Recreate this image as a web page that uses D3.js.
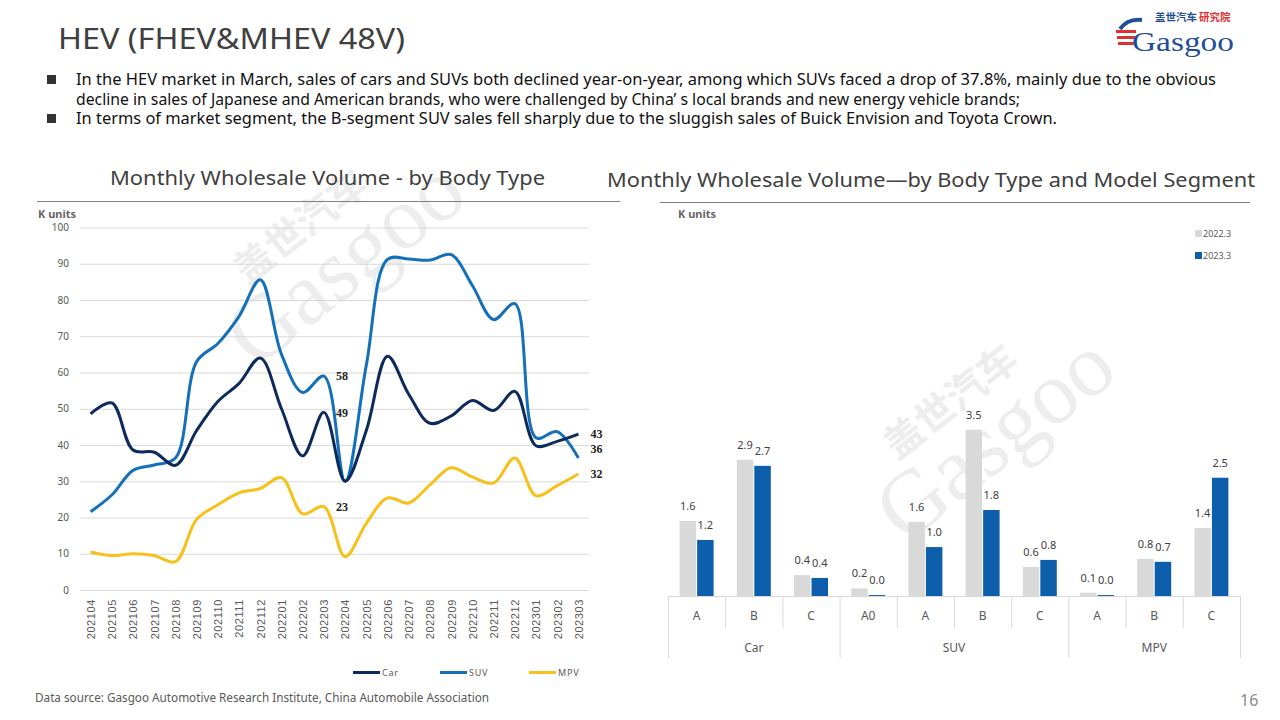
<!DOCTYPE html>
<html><head><meta charset="utf-8">
<script src="https://cdn.jsdelivr.net/npm/d3@7"></script>
<style>
html,body{margin:0;padding:0;background:#fff;}
svg{display:block;font-family:"Noto Sans","DejaVu Sans",sans-serif;}
</style></head>
<body>
<svg id="c" width="1280" height="720"></svg>
<script>
// ---------- DATA ----------
const months = ["202104","202105","202106","202107","202108","202109","202110","202111","202112",
  "202201","202202","202203","202204","202205","202206","202207","202208","202209","202210","202211","202212",
  "202301","202302","202303"];
const carSales = [48.6,51.6,38.6,38,34.4,44,52,57,64,50,37,49,30,44,64.5,54,46,48,52.3,49.5,54.8,39.8,41,43];
const suvSales = [21.6,26.2,33,34.5,36.4,63,68,75.5,85.6,65,54.5,59,30,62,91.2,91.3,91,92.5,84,74.6,79,42,43.7,36.4];
const mpvSales = [10.5,9.5,10,9.5,7.8,19.5,23.5,26.8,28,31,21,23,9.2,18.4,25.4,24,29,33.7,31.2,29.5,36.4,26,28.8,32];
const lineYTicks = [0,10,20,30,40,50,60,70,80,90,100];
const lineSeriesNames = ["Car","SUV","MPV"];
const lineLabels = [ // series, month index, shown text
  {s:1,i:11,t:"58"},{s:0,i:11,t:"49"},{s:2,i:11,t:"23"},
  {s:0,i:23,t:"43"},{s:1,i:23,t:"36"},{s:2,i:23,t:"32"}];

const barGroups = ["Car","SUV","MPV"];
const segments = [["Car","A"],["Car","B"],["Car","C"],["SUV","A0"],["SUV","A"],["SUV","B"],["SUV","C"],["MPV","A"],["MPV","B"],["MPV","C"]];
const sales2022_3 = [1.58,2.87,0.44,0.16,1.56,3.50,0.61,0.07,0.78,1.43];
const sales2023_3 = [1.18,2.74,0.38,0.02,1.03,1.81,0.76,0.02,0.72,2.49];
const barSeriesNames = ["2022.3","2023.3"];

const bullets = [
  ["In the HEV market in March, sales of cars and SUVs both declined year-on-year, among which SUVs faced a drop of 37.8%, mainly due to the obvious",
   "decline in sales of Japanese and American brands, who were challenged by China’ s local brands and new energy vehicle brands;"],
  ["In terms of market segment, the B-segment SUV sales fell sharply due to the sluggish sales of Buick Envision and Toyota Crown."]
];

// ---------- DRAW ----------
const svg = d3.select("#c");
const fit = (sel, w) => sel.attr("textLength", w).attr("lengthAdjust", "spacingAndGlyphs");

// watermarks
function watermark(x, y, s) {
  const g = svg.append("g").attr("transform", `translate(${x},${y}) rotate(-38) scale(${s})`).attr("fill", "#ededed");
  g.append("text").attr("x", 40).attr("y", -62).attr("font-size", 34).attr("font-family", "Noto Sans CJK SC").attr("font-weight", 700).text("盖世汽车");
  g.append("text").attr("x", 0).attr("y", 0).attr("font-size", 78).attr("font-family", "Liberation Serif").text("Gasgoo");
}
watermark(255, 370, 1.15);
watermark(905, 545, 1.15);

// header
fit(svg.append("text").attr("x", 58).attr("y", 49).attr("font-size", 29).attr("fill", "#404040").text("HEV (FHEV&MHEV 48V)"), 347);

// logo
const logo = svg.append("g");
[30, 36, 42].forEach((yy, k) => logo.append("rect").attr("x", 1116 + k).attr("y", yy).attr("width", 20 - k * 2).attr("height", 3).attr("fill", "#e03131"));
logo.append("text").attr("x", 1155).attr("y", 21).attr("font-size", 10.5).attr("font-weight", 700).attr("font-family", "Noto Sans CJK SC").attr("fill", "#1f4e9a").text("盖世汽车");
logo.append("text").attr("x", 1199).attr("y", 21).attr("font-size", 10.5).attr("font-weight", 700).attr("font-family", "Noto Sans CJK SC").attr("fill", "#e03131").text("研究院");
fit(logo.append("text").attr("x", 1132).attr("y", 51).attr("font-size", 27).attr("font-family", "Liberation Serif").attr("fill", "#1f4e9a").text("Gasgoo"), 102);
logo.append("path").attr("d", "M1120,29 Q1128,18 1142,20").attr("fill", "none").attr("stroke", "#1f4e9a").attr("stroke-width", 4);

// bullets
const bulletW = [[1140, 944], [981]];
let by = 85;
bullets.forEach((b, bi) => {
  svg.append("rect").attr("x", 47).attr("y", by - 10).attr("width", 9).attr("height", 9).attr("fill", "#333");
  b.forEach((line, li) => {
    fit(svg.append("text").attr("x", 76).attr("y", by).attr("font-size", 15.5).attr("fill", "#111").text(line), bulletW[bi][li]);
    by += 19.5;
  });
});

// ===== LEFT LINE CHART =====
fit(svg.append("text").attr("x", 110).attr("y", 185).attr("font-size", 20).attr("fill", "#404040").text("Monthly Wholesale Volume - by Body Type"), 435);
svg.append("line").attr("x1", 37).attr("x2", 620).attr("y1", 201.5).attr("y2", 201.5).attr("stroke", "#7f7f7f");
svg.append("text").attr("x", 38).attr("y", 218).attr("font-size", 11).attr("font-weight", 700).attr("fill", "#666").text("K units");

const xL = d3.scalePoint().domain(months).range([80, 589]).padding(0.5);
const yL = d3.scaleLinear().domain([0, 100]).range([590, 227.5]);

const gy = svg.append("g").attr("transform", "translate(80,0)")
  .call(d3.axisLeft(yL).tickValues(lineYTicks).tickSize(-509).tickPadding(11));
gy.select(".domain").remove();
gy.selectAll(".tick line").attr("stroke", "#d9d9d9");
gy.selectAll(".tick text").attr("font-size", 10).attr("fill", "#595959").attr("font-family", "Noto Sans");

const gx = svg.append("g").attr("transform", "translate(0,590)")
  .call(d3.axisBottom(xL).tickSize(0).tickPadding(8));
gx.select(".domain").remove();
gx.selectAll(".tick text").attr("font-size", 11).attr("fill", "#595959").attr("letter-spacing", 0.6)
  .attr("transform", "rotate(-90)").attr("text-anchor", "end").attr("dy", "0.35em").attr("x", -9).attr("y", 0);

const lineData = [carSales, suvSales, mpvSales];
const lineColors = ["#0c2a5c", "#1470b8", "#f8c01a"];
const lineGen = d3.line().x((d, i) => xL(months[i])).y(d => yL(d)).curve(d3.curveCatmullRom.alpha(0.5));
[1, 0, 2].forEach(s => {
  svg.append("path").datum(lineData[s]).attr("d", lineGen).attr("fill", "none")
    .attr("stroke", lineColors[s]).attr("stroke-width", 3).attr("stroke-linejoin", "round");
});
const lblDy = {"1-23": -9};
lineLabels.forEach(l => {
  svg.append("text").attr("x", xL(months[l.i]) + 12).attr("y", yL(lineData[l.s][l.i]) + (lblDy[l.s + "-" + l.i] || 0))
    .attr("dy", "0.35em").attr("font-size", 12).attr("font-weight", 700).attr("font-family", "Liberation Serif")
    .attr("fill", "#222").text(l.t);
});
// legend
const legX = [353, 440, 529];
lineSeriesNames.forEach((n, i) => {
  svg.append("line").attr("x1", legX[i]).attr("x2", legX[i] + 27).attr("y1", 672.5).attr("y2", 672.5).attr("stroke", lineColors[i]).attr("stroke-width", 3);
  svg.append("text").attr("x", legX[i] + 29).attr("y", 676).attr("font-size", 9).attr("letter-spacing", 0.8).attr("fill", "#595959").text(n);
});

// ===== RIGHT BAR CHART =====
fit(svg.append("text").attr("x", 607).attr("y", 187).attr("font-size", 20).attr("fill", "#404040").text("Monthly Wholesale Volume—by Body Type and Model Segment"), 648);
svg.append("line").attr("x1", 660).attr("x2", 1250).attr("y1", 202.5).attr("y2", 202.5).attr("stroke", "#7f7f7f");
svg.append("text").attr("x", 678).attr("y", 218).attr("font-size", 11).attr("font-weight", 700).attr("fill", "#666").text("K units");

const segKeys = segments.map((d, i) => i);
const xB = d3.scaleBand().domain(segKeys).range([668, 1240]);
const yB = d3.scaleLinear().domain([0, 4]).range([596, 406]);
const xInner = d3.scaleBand().domain([0, 1]).range([-17, 17]).paddingInner(0.06);
const barColors = ["#d9d9d9", "#0d5eab"];
const barVals = [sales2022_3, sales2023_3];

const gb = svg.append("g");
barVals.forEach((vals, s) => {
  gb.selectAll(null).data(vals).enter().append("rect")
    .attr("x", (d, i) => xB(i) + xB.bandwidth() / 2 + xInner(s))
    .attr("width", xInner.bandwidth())
    .attr("y", d => yB(d)).attr("height", d => yB(0) - yB(d))
    .attr("fill", barColors[s]);
  gb.selectAll(null).data(vals).enter().append("text")
    .attr("x", (d, i) => xB(i) + xB.bandwidth() / 2 + xInner(s) + xInner.bandwidth() / 2)
    .attr("y", d => yB(d) - 11).attr("text-anchor", "middle").attr("font-size", 11)
    .attr("fill", "#404040").text(d => d3.format(".1f")(d));
});
// axis lines
svg.append("line").attr("x1", 668).attr("x2", 1240).attr("y1", 596.5).attr("y2", 596.5).attr("stroke", "#d9d9d9");
segments.forEach((d, i) => {
  svg.append("text").attr("x", xB(i) + xB.bandwidth() / 2).attr("y", 620).attr("text-anchor", "middle")
    .attr("font-size", 12).attr("fill", "#595959").text(d[1]);
});
const groupBounds = barGroups.map(g => {
  const idx = segKeys.filter(i => segments[i][0] === g);
  return {g, x0: xB(idx[0]), x1: xB(idx[idx.length - 1]) + xB.bandwidth()};
});
// dividers
segKeys.forEach(i => {
  if (i === 0) return;
  const isGroup = segments[i][0] !== segments[i - 1][0];
  svg.append("line").attr("x1", xB(i) + 0.5).attr("x2", xB(i) + 0.5).attr("y1", 596).attr("y2", isGroup ? 658 : 628).attr("stroke", "#d9d9d9");
});
[668, 1240].forEach(x => svg.append("line").attr("x1", x + 0.5).attr("x2", x + 0.5).attr("y1", 596).attr("y2", 658).attr("stroke", "#d9d9d9"));
groupBounds.forEach(b => {
  svg.append("text").attr("x", (b.x0 + b.x1) / 2).attr("y", 652).attr("text-anchor", "middle")
    .attr("font-size", 12).attr("fill", "#595959").text(b.g);
});
// legend
barSeriesNames.forEach((n, i) => {
  svg.append("rect").attr("x", 1195).attr("y", 230 + i * 22).attr("width", 7).attr("height", 7).attr("fill", barColors[i]);
  svg.append("text").attr("x", 1203).attr("y", 237 + i * 22).attr("font-size", 9).attr("fill", "#595959").text(n);
});

// footer
fit(svg.append("text").attr("x", 35).attr("y", 702).attr("font-size", 12).attr("fill", "#595959").text("Data source: Gasgoo Automotive Research Institute, China Automobile Association"), 454);
svg.append("text").attr("x", 1240).attr("y", 706).attr("font-size", 16).attr("fill", "#8c8c8c").text("16");
</script>
</body></html>
